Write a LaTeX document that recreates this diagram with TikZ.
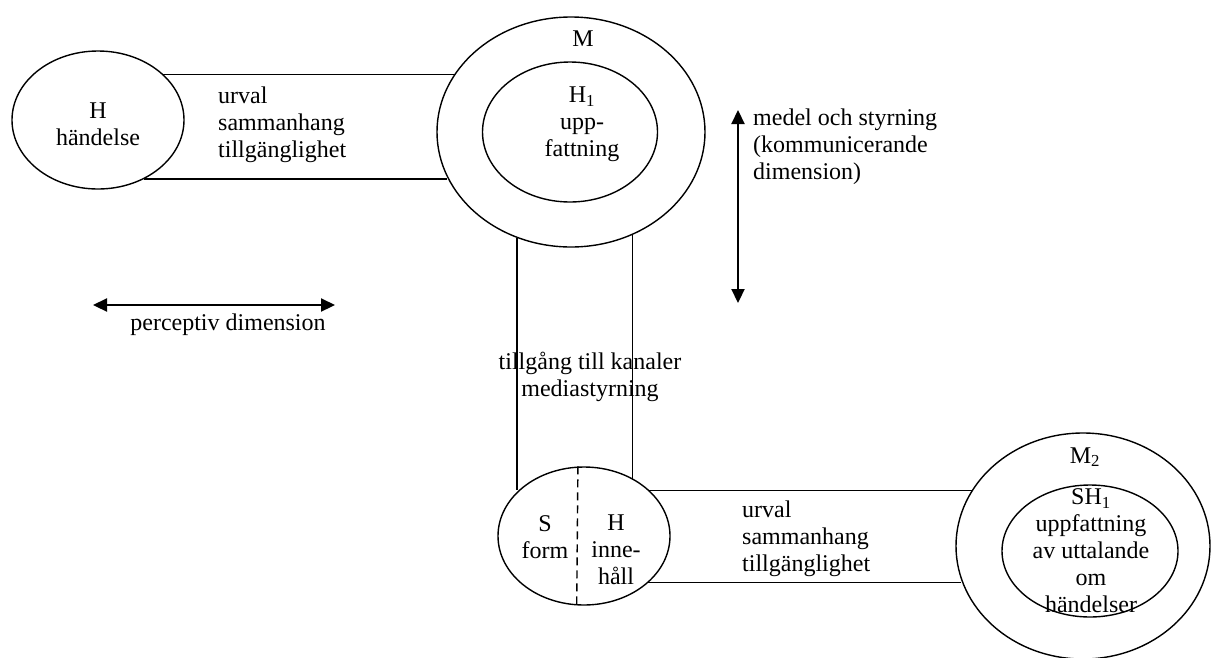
\documentclass[tikz,border=0pt]{standalone}
\usepackage{fontspec}
\setmainfont{Liberation Serif}
\usetikzlibrary{shapes.geometric,arrows.meta}
\begin{document}
\begin{tikzpicture}[x=1pt,y=-1pt,
  oval/.style={ellipse, draw, line width=1.4pt, inner sep=0pt},
  lbl/.style={inner sep=0pt, font=\fontsize{24}{27}\selectfont, align=center},
  lbll/.style={inner sep=0pt, font=\fontsize{24}{27}\selectfont, align=left, anchor=west},
  band/.style={line width=1.4pt},
  dimarrow/.style={line width=2.2pt, {Triangle[length=14pt,width=13pt]}-{Triangle[length=14pt,width=13pt]}}]
\useasboundingbox (0,0) rectangle (1211,657);
% ellipses
\node[oval, minimum width=172pt, minimum height=138pt] (H) at (98,120) {};
\node[oval, minimum width=268pt, minimum height=230pt] (Mo) at (571,132) {};
\node[oval, minimum width=175pt, minimum height=140pt] (Mi) at (570,132) {};
\node[oval, minimum width=172pt, minimum height=138pt] (SH) at (584,536) {};
\node[oval, minimum width=254pt, minimum height=226pt] (M2o) at (1083,546) {};
\node[oval, minimum width=176pt, minimum height=132pt] (M2i) at (1090,551) {};
% texts
\node[lbl] (tH) at (98,124) {H\\händelse};
\node[lbll] (tband1) at (218,125) {urval\\sammanhang\\tillgänglighet};
\node[lbl] (tM) at (583,39) {M};
\node[lbl] (tH1) at (582,124) {H\textsubscript{1}\\upp-\\fattning};
\node[lbll] (tmedel) at (753,147) {medel och styrning\\(kommunicerande\\dimension)};
\node[lbl] (tperc) at (228,325) {perceptiv dimension};
\node[lbl] (tkan) at (590,377) {tillgång till kanaler\\mediastyrning};
\node[lbl] (tS) at (545,537) {S\\form};
\node[lbl] (tHi) at (616,550) {H\\inne-\\håll};
\node[lbll] (tband2) at (742,539) {urval\\sammanhang\\tillgänglighet};
\node[lbl] (tM2) at (1085,457) {M\textsubscript{2}};
\node[lbl] (tSH1) at (1091,551) {SH\textsubscript{1}\\uppfattning\\av uttalande\\om\\händelser};
% bands
\draw[band] (H.35.67) -- (H.35.67 -| Mo.153.38);
\draw[band] (H.308.78) -- (H.308.78 -| Mo.200.54);
\draw[band] (Mo.243.87) -- (Mo.243.87 |- SH.145.2);
\draw[band] (Mo.301.83) -- (Mo.301.83 |- SH.48.3);
\draw[band] (SH.35.67) -- (SH.35.67 -| M2o.153.08);
\draw[band] (SH.324.33) -- (SH.324.33 -| M2o.196.65);
\draw[band, dash pattern=on 8pt off 5pt] (SH.95.8) -- (SH.264.2);
% dimension arrows
\coordinate (va) at (738,110);
\coordinate (vb) at (738,303);
\coordinate (ha) at (93,305);
\coordinate (hb) at (335,305);
\draw[dimarrow] (va) -- (vb);
\draw[dimarrow] (ha) -- (hb);
\end{tikzpicture}
\end{document}
